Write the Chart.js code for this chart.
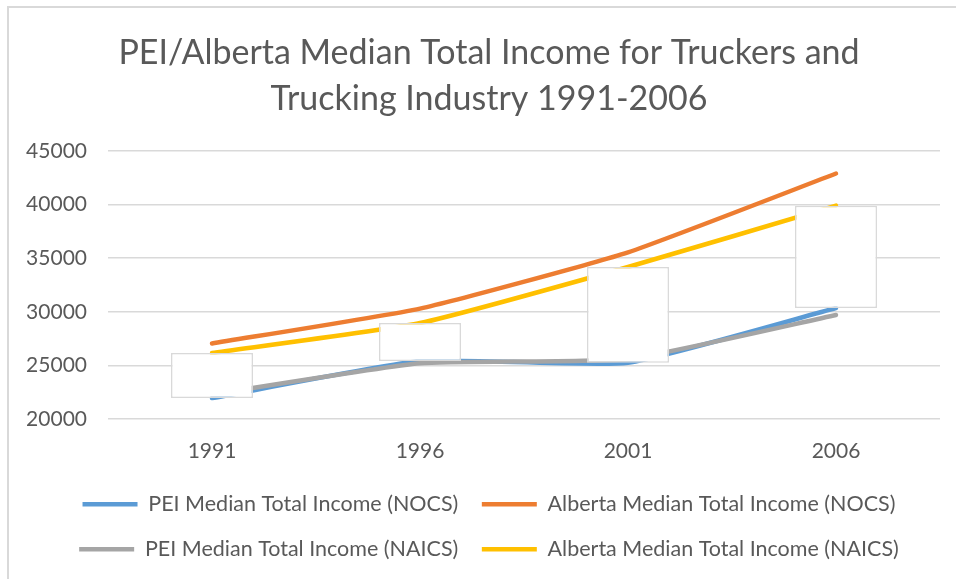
<!DOCTYPE html>
<html lang="en">
<head>
  <meta charset="UTF-8" />
  <title>PEI/Alberta Median Total Income for Truckers</title>
  <script src="https://cdn.jsdelivr.net/npm/chart.js"></script>
  <style>
    body {
      margin: 0;
      background: #fff;
      overflow: hidden;
    }
    #frame {
      position: absolute;
      left: 7px;
      top: 6px;
      width: 2000px;
      height: 2000px;
      border-left: 2px solid #d9d9d9;
      border-top: 2px solid #d9d9d9;
    }
    #chart {
      position: absolute;
      left: 9px;
      top: 8px;
    }
  </style>
</head>
<body>
  <div id="frame"></div>
  <canvas id="chart" width="958" height="571"></canvas>

  <script>
    const years = ["1991", "1996", "2001", "2006"];
    const peiNocs = [21950, 25400, 25250, 30350];
    const albertaNocs = [27050, 30300, 35550, 42900];
    const peiNaics = [22300, 25200, 25600, 29700];
    const albertaNaics = [26150, 28950, 34180, 39900];

    const txt = "#595959";
    const fontFam = "Lato, 'Open Sans', sans-serif";

    // white up/down bars between first and last series, like the excel chart
    const updown = years.map((y, i) => [peiNocs[i], albertaNaics[i]]);

    function lineSet(label, data, color, order) {
      return {
        type: "line",
        label,
        data,
        borderColor: color,
        backgroundColor: color,
        borderWidth: 4.5,
        borderCapStyle: "round",
        borderJoinStyle: "round",
        pointRadius: 0,
        tension: 0.15,
        order,
      };
    }

    // the excel chart is wider than the shot, so title and legend sit a bit right of the plot centre
    const shiftCentre = {
      id: "shiftCentre",
      afterLayout(chart) {
        [chart.titleBlock, chart.legend].forEach((b) => {
          if (b) b.left += 29;
        });
      },
    };

    new Chart(document.getElementById("chart"), {
      data: {
        labels: years,
        datasets: [
          lineSet("PEI Median Total Income (NOCS)", peiNocs, "#5b9bd5", 4),
          lineSet("Alberta Median Total Income (NOCS)", albertaNocs, "#ed7d31", 3),
          lineSet("PEI Median Total Income (NAICS)", peiNaics, "#a5a5a5", 2),
          lineSet("Alberta Median Total Income (NAICS)", albertaNaics, "#ffc000", 1),
          {
            type: "bar",
            label: "updown",
            data: updown,
            backgroundColor: "#ffffff",
            borderColor: "#d9d9d9",
            borderWidth: 1.5,
            borderSkipped: false,
            barPercentage: 0.394,
            categoryPercentage: 1,
            order: 0,
          },
        ],
      },
      plugins: [shiftCentre],
      options: {
        responsive: false,
        animation: false,
        layout: {
          padding: { left: 0, right: 27, top: 0, bottom: 9 },
        },
        plugins: {
          title: {
            display: true,
            text: ["PEI/Alberta Median Total Income for Truckers and", "Trucking Industry 1991-2006"],
            color: txt,
            font: { family: fontFam, size: 34, weight: "normal", lineHeight: 1.353 },
            padding: { top: 22, bottom: 29 },
          },
          legend: {
            position: "bottom",
            labels: {
              color: txt,
              font: { family: fontFam, size: 21.5 },
              usePointStyle: true,
              pointStyle: "line",
              pointStyleWidth: 55,
              padding: 23.5,
              filter: (item) => item.datasetIndex < 4,
              sort: (a, b) => a.datasetIndex - b.datasetIndex,
            },
          },
          tooltip: { enabled: false },
        },
        scales: {
          x: {
            afterFit: (scale) => { scale.height = 51; },
            grid: { display: false },
            border: { display: false },
            ticks: {
              color: txt,
              font: { family: fontFam, size: 21 },
              padding: 12,
            },
          },
          y: {
            min: 20000,
            max: 45000,
            afterFit: (scale) => { scale.width = 99; },
            grid: { color: "#d9d9d9", lineWidth: 1.5, drawTicks: false },
            border: { display: false },
            ticks: {
              stepSize: 5000,
              color: txt,
              font: { family: fontFam, size: 21 },
              padding: 21,
              callback: (v) => String(v),
            },
          },
        },
      },
    });
  </script>
</body>
</html>
